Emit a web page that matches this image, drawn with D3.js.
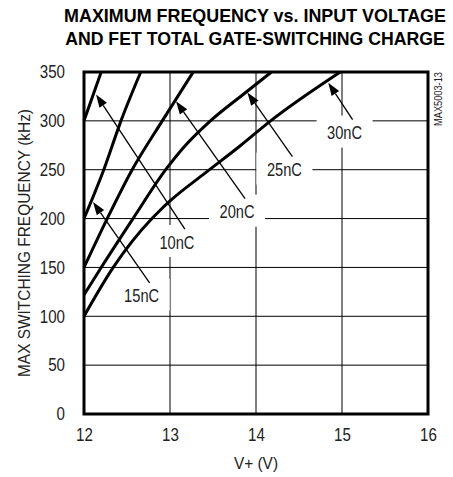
<!DOCTYPE html>
<html>
<head>
<meta charset="utf-8">
<script src="https://cdn.jsdelivr.net/npm/d3@7/dist/d3.min.js"></script>
<style>
  body { margin: 0; background: #fff; }
  svg text { font-family: "Liberation Sans", Arial, sans-serif; fill: #222; }
</style>
</head>
<body>
<svg id="chart" width="453" height="477"></svg>
<script>
// axis ticks
var voltTicks = [12, 13, 14, 15, 16];
var freqTicks = [0, 50, 100, 150, 200, 250, 300, 350];

// curves, [V+, kHz]
var curve10 = [[12, 300], [12.2, 350]];
var curve15 = [[12, 200], [12.23, 250], [12.43, 300], [12.66, 350]];
var curve20 = [[12, 150], [12.27, 200], [12.56, 250], [12.91, 300], [13.27, 350]];
var curve25 = [[12, 122], [12.2, 150], [12.57, 200], [12.95, 250], [13.15, 272], [13.47, 300], [13.85, 327], [14.18, 350]];
var curve30 = [[12, 100], [12.34, 150], [12.79, 200], [12.88, 208], [13.0, 218], [13.4, 246], [13.81, 274], [14.17, 300], [14.98, 350]];

// annotations: label text, label centre, arrow tip (data units)
var labelText = ["10nC", "15nC", "20nC", "25nC", "30nC"];
var labelAt   = [[13.08, 176], [12.67, 121], [13.78, 207], [14.33, 250], [15.03, 288]];
var arrowTip  = [[12.14, 327], [12.105, 217], [13.07, 320], [13.9, 329], [14.84, 339]];

var svg = d3.select("#chart");
var W = 453, H = 477;
var margin = {top: 72, right: 25, bottom: 63, left: 84};
var digitW = 8.4;   // narrow digits, as in the reference

var x = d3.scaleLinear().domain([12, 16]).range([margin.left, W - margin.right]);
var y = d3.scaleLinear().domain([0, 350]).range([H - margin.bottom, margin.top]);

// title - squeezed horizontally to look like the condensed face
function squeezedTitle(txt, cy, width) {
    var t = svg.append("text")
        .attr("text-anchor", "middle")
        .attr("font-size", 19).attr("font-weight", "bold")
        .style("fill", "#000")
        .text(txt);
    var natural = t.node().getComputedTextLength();
    t.attr("transform", "translate(255," + cy + ") scale(" + (width / natural) + ",1)");
}
squeezedTitle("MAXIMUM FREQUENCY vs. INPUT VOLTAGE", 22, 382);
squeezedTitle("AND FET TOTAL GATE-SWITCHING CHARGE", 45, 380);

// grid
var grid = svg.append("g");
grid.selectAll(".vg")
    .data(voltTicks.slice(1, -1))
    .enter().append("line")
    .attr("x1", function(d) { return x(d); })
    .attr("x2", function(d) { return x(d); })
    .attr("y1", y(0)).attr("y2", y(350))
    .attr("stroke", "#000").attr("stroke-width", 1);
grid.selectAll(".hg")
    .data(freqTicks.slice(1, -1))
    .enter().append("line")
    .attr("x1", x(12)).attr("x2", x(16))
    .attr("y1", function(d) { return y(d); })
    .attr("y2", function(d) { return y(d); })
    .attr("stroke", "#000").attr("stroke-width", 1);

// white boxes that break the grid behind the labels
svg.selectAll(".lblbox")
    .data(labelAt)
    .enter().append("rect")
    .attr("x", function(d) { return x(d[0]) - 28; })
    .attr("y", function(d) { return y(d[1]) - 17; })
    .attr("width", 56).attr("height", 32)
    .attr("fill", "#fff");

// axes (labels only, frame drawn separately)
var xAxis = svg.append("g")
    .attr("transform", "translate(0," + y(0) + ")")
    .call(d3.axisBottom(x).tickValues(voltTicks).tickFormat(d3.format("d")).tickSize(0).tickPadding(14));
var yAxis = svg.append("g")
    .attr("transform", "translate(" + x(12) + ",0)")
    .call(d3.axisLeft(y).tickValues(freqTicks).tickFormat(d3.format("d")).tickSize(0).tickPadding(19));
[xAxis, yAxis].forEach(function(g) {
    g.select(".domain").remove();
    g.selectAll("text")
        .attr("font-size", 18).attr("font-family", null)
        .attr("textLength", function(d) { return String(d).length * digitW; })
        .attr("lengthAdjust", "spacingAndGlyphs")
        .style("fill", "#222");
});

svg.append("text")
    .attr("x", x(14)).attr("y", 469)
    .attr("text-anchor", "middle").attr("font-size", 17)
    .attr("textLength", 44).attr("lengthAdjust", "spacingAndGlyphs")
    .text("V+ (V)");
svg.append("text")
    .attr("transform", "translate(30," + y(175) + ") rotate(-90)")
    .attr("text-anchor", "middle").attr("font-size", 16)
    .attr("textLength", 268).attr("lengthAdjust", "spacingAndGlyphs")
    .text("MAX SWITCHING FREQUENCY (kHz)");
svg.append("text")
    .attr("transform", "translate(442,99) rotate(-90)")
    .attr("text-anchor", "middle").attr("font-size", 10)
    .attr("textLength", 54).attr("lengthAdjust", "spacingAndGlyphs")
    .text("MAX5003-13");

// curves
var line = d3.line()
    .x(function(d) { return x(d[0]); })
    .y(function(d) { return y(d[1]); })
    .curve(d3.curveMonotoneX);

svg.append("g").selectAll("path")
    .data([curve10, curve15, curve20, curve25, curve30])
    .enter().append("path")
    .attr("d", line)
    .attr("fill", "none")
    .attr("stroke", "#000")
    .attr("stroke-width", 3);

// arrows + labels
labelText.forEach(function(t, i) {
    var lx = x(labelAt[i][0]), ly = y(labelAt[i][1]);
    var tx = x(arrowTip[i][0]), ty = y(arrowTip[i][1]);
    var sx = lx + 8, sy = ly - 13;
    var dx = tx - sx, dy = ty - sy, len = Math.sqrt(dx * dx + dy * dy);
    var ux = dx / len, uy = dy / len;
    var hl = 13, hw = 4.5;
    var bx = tx - ux * hl, by = ty - uy * hl;

    svg.append("line")
        .attr("x1", sx).attr("y1", sy)
        .attr("x2", bx).attr("y2", by)
        .attr("stroke", "#000").attr("stroke-width", 1.3);
    svg.append("path")
        .attr("d", "M" + tx + "," + ty +
                   "L" + (bx - uy * hw) + "," + (by + ux * hw) +
                   "L" + (bx + uy * hw) + "," + (by - ux * hw) + "Z")
        .attr("fill", "#000");
    svg.append("text")
        .attr("x", lx).attr("y", ly + 6.5)
        .attr("text-anchor", "middle").attr("font-size", 18)
        .attr("textLength", 35).attr("lengthAdjust", "spacingAndGlyphs")
        .text(t);
});

// frame
svg.append("rect")
    .attr("x", x(12)).attr("y", y(350))
    .attr("width", x(16) - x(12)).attr("height", y(0) - y(350))
    .attr("fill", "none")
    .attr("stroke", "#000")
    .attr("stroke-width", 3);
</script>
</body>
</html>
